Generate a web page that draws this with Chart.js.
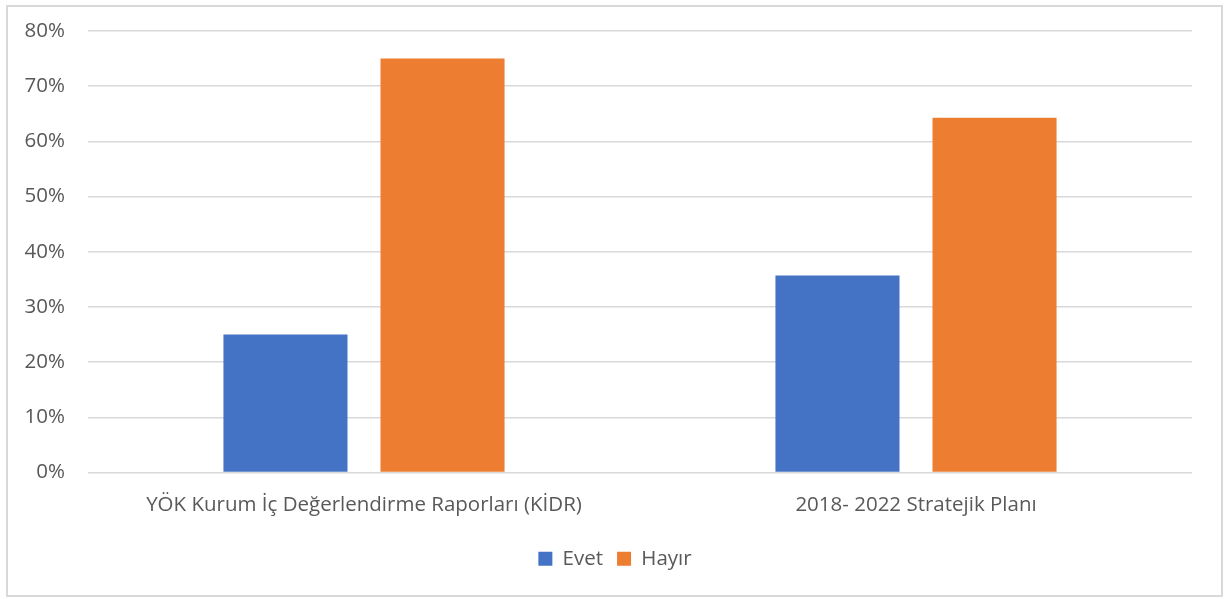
<!DOCTYPE html>
<html><head><meta charset="utf-8">
<script src="https://cdn.jsdelivr.net/npm/chart.js@4/dist/chart.umd.min.js"></script>
<style>
html,body{margin:0;padding:0;background:#fff;}
#wrap{position:absolute;left:6px;top:5px;width:1213px;height:588px;border:2px solid #D9D9D9;}
canvas{position:absolute;left:0;top:0;}
</style></head><body>
<div id="wrap"></div>
<canvas id="c" width="1226" height="599"></canvas>
<script>
const categories = ["YÖK Kurum İç Değerlendirme Raporları (KİDR)", "2018- 2022 Stratejik Planı"];
const evet = [25, 35.7];
const hayir = [75, 64.3];
const seriesNames = ["Evet", "Hayır"];

const FONT = {family: 'Open Sans', size: 20.5};
const legendShift = {
  id: 'legendShift',
  afterLayout(chart) {
    const lg = chart.legend;
    if (lg) { lg.left += 19; lg.right += 19; }
  }
};
const canvas = document.getElementById('c');
new Chart(canvas, {
  type: 'bar',
  data: {
    labels: categories,
    datasets: [
      {label: seriesNames[0], data: evet, backgroundColor: '#4472C4', categoryPercentage: 0.569, barPercentage: 0.79},
      {label: seriesNames[1], data: hayir, backgroundColor: '#ED7D31', categoryPercentage: 0.569, barPercentage: 0.79}
    ]
  },
  plugins: [legendShift],
  options: {
    responsive: false,
    animation: false,
    devicePixelRatio: 1,
    layout: {padding: {left: 0, right: 34, top: 31, bottom: 20}},
    plugins: {
      legend: {
        position: 'bottom',
        labels: {boxWidth: 14, boxHeight: 14, color: '#595959', padding: 14, font: FONT}
      },
      tooltip: {enabled: false}
    },
    scales: {
      x: {
        grid: {display: false, drawTicks: false},
        border: {display: false},
        afterFit: s => { s.height = 62; },
        ticks: {color: '#595959', padding: 20, maxRotation: 0, font: FONT}
      },
      y: {
        min: 0, max: 80,
        afterFit: s => { s.width = 88; s.paddingTop = 0; },
        grid: {color: '#D9D9D9', lineWidth: 1.5, drawTicks: false},
        border: {display: false},
        ticks: {stepSize: 10, color: '#595959', padding: 23, callback: v => v + '%', font: FONT}
      }
    }
  }
});
</script>
</body></html>
